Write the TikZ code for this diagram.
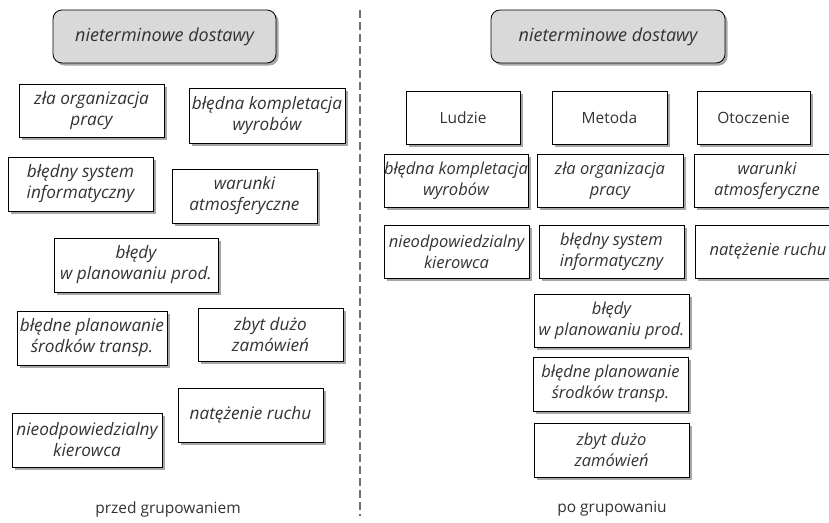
\documentclass[tikz,border=0pt]{standalone}
\usepackage{fontspec}
\setmainfont{Open Sans}
\usetikzlibrary{shadows}
\definecolor{inkgray}{HTML}{333333}
\definecolor{headfill}{HTML}{D9D9D9}
\definecolor{shade}{HTML}{A6A6A6}
\definecolor{divider}{HTML}{707070}
\tikzset{
  cause/.style={draw=black, line width=0.8pt, fill=white, align=center,
    inner sep=0pt, text=inkgray,
    font=\fontsize{16.5}{21}\selectfont\itshape,
    drop shadow={shadow xshift=2.5pt, shadow yshift=-2.5pt, fill=shade, opacity=1}},
  causeL/.style={cause, font=\fontsize{17.2}{21}\selectfont\itshape},
  effect/.style={cause, fill=headfill, rounded corners=9pt,
    font=\fontsize{18}{21}\selectfont\itshape},
  group/.style={cause, font=\fontsize{15.5}{21}\selectfont},
  caption/.style={text=inkgray, font=\fontsize{15.5}{18}\selectfont},
  sz/.style n args={2}{minimum width=#1pt, minimum height=#2pt}
}
\begin{document}
\begin{tikzpicture}[x=1pt, y=-1pt]
  \useasboundingbox (0,0) rectangle (829,522);
  \clip (0,0) rectangle (829,522);

  % separator between the two halves
  \draw[divider, line width=1.4pt, dash pattern=on 8pt off 4pt] (360,10) coordinate (sepTop) -- (360,516) coordinate (sepBot);

  % ---- left half: causes before grouping ----
  \node[effect, sz={223}{53}] (effL) at (164.5,36.5) {nieterminowe dostawy};
  \node[causeL, sz={145}{53}] (orgL) at (91.5,110.5) {zła organizacja\\pracy};
  \node[causeL, sz={156}{55}] (komL) at (267,115.5) {błędna kompletacja\\wyrobów};
  \node[causeL, sz={145}{54}] (sysL) at (80.5,184) {błędny system\\informatyczny};
  \node[causeL, sz={145}{54}] (warL) at (244.5,196) {warunki\\atmosferyczne};
  \node[causeL, sz={164}{54}] (plaL) at (136,265) {błędy\\w planowaniu prod.};
  \node[causeL, sz={150}{54}] (trnL) at (92,338) {błędne planowanie\\środków transp.};
  \node[causeL, sz={145}{53}] (zamL) at (270.5,334.5) {zbyt dużo\\zamówień};
  \node[causeL, sz={145}{54}] (ruchL) at (250.5,415) {natężenie ruchu};
  \node[causeL, sz={150}{54}] (kieL) at (87,440) {nieodpowiedzialny\\kierowca};
  \node[caption] (capL) at (168,509) {przed grupowaniem};

  % ---- right half: causes after grouping ----
  \node[effect, sz={234}{53}] (effR) at (608,36.5) {nieterminowe dostawy};
  \node[group, sz={114}{53}] (gLud) at (463,117.5) {Ludzie};
  \node[group, sz={115}{53}] (gMet) at (609.5,117.5) {Metoda};
  \node[group, sz={113}{53}] (gOto) at (753.5,117.5) {Otoczenie};

  \node[cause, sz={144}{53}] (komR) at (456,180.5) {błędna kompletacja\\wyrobów};
  \node[cause, sz={145}{53}] (kieR) at (456.5,251.5) {nieodpowiedzialny\\kierowca};

  \node[cause, sz={146}{53}] (orgR) at (610,180.5) {zła organizacja\\pracy};
  \node[cause, sz={145}{53}] (sysR) at (611.5,251.5) {błędny system\\informatyczny};
  \node[cause, sz={155}{53}] (plaR) at (611.5,320.5) {błędy\\w planowaniu prod.};
  \node[cause, sz={155}{54}] (trnR) at (610.5,384) {błędne planowanie\\środków transp.};
  \node[cause, sz={155}{54}] (zamR) at (611.5,450) {zbyt dużo\\zamówień};

  \node[cause, sz={146}{53}] (warR) at (767,180.5) {warunki\\atmosferyczne};
  \node[cause, sz={146}{53}] (ruchR) at (768,251.5) {natężenie ruchu};

  \node[caption] (capR) at (612,509) {po grupowaniu};
\end{tikzpicture}
\end{document}
